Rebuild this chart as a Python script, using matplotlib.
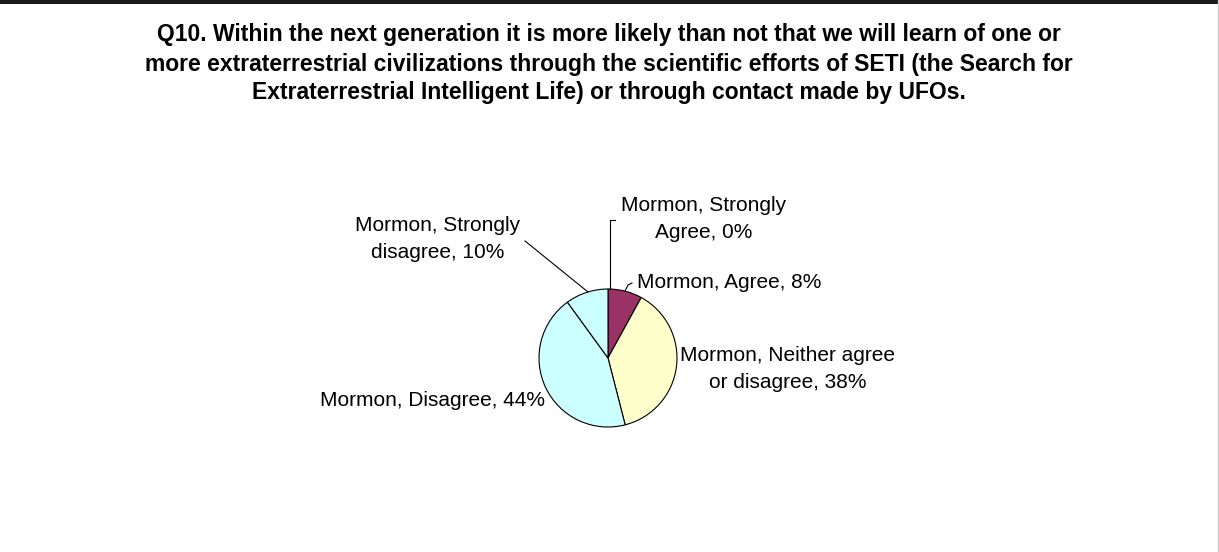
import matplotlib
matplotlib.use("Agg")
import matplotlib.pyplot as plt
from matplotlib.patches import Rectangle

plt.rcParams['font.family'] = ['Liberation Sans', 'DejaVu Sans']

title_lines = [
    "Q10. Within the next generation it is more likely than not that we will learn of one or",
    "more extraterrestrial civilizations through the scientific efforts of SETI (the Search for",
    "Extraterrestrial Intelligent Life) or through contact made by UFOs.",
]
categories = ["Strongly Agree", "Agree", "Neither agree or disagree", "Disagree", "Strongly disagree"]
group = "Mormon"
percents = [0, 8, 38, 44, 10]
colors = ["#9999FF", "#993366", "#FFFFCC", "#CCFFFF", "#CCFFFF"]

W, H = 1219, 552
fig = plt.figure(figsize=(W / 100, H / 100), dpi=100)
ax = fig.add_axes([0, 0, 1, 1])


def Y(ypix):
    return H - ypix


cx, cy, r = 608, 358, 69
ax.pie(percents, colors=colors, startangle=90, counterclock=False,
       center=(cx, Y(cy)), radius=r,
       wedgeprops=dict(edgecolor='black', linewidth=0.8))
ax.set_xlim(0, W)
ax.set_ylim(0, H)
ax.set_aspect('auto')
ax.axis('off')

# title
for i, line in enumerate(title_lines):
    ax.text(609, Y(35 + 29 * i), line, ha='center', va='center',
            fontsize=16.5, fontweight='bold', color='black')

fs = 15
lw = 0.8

# Strongly agree label
ax.text(704, Y(219), f"{group}, Strongly\n{categories[0].split()[1]}, {percents[0]}%",
        ha='center', va='center', fontsize=fs, linespacing=1.5)
ax.plot([610, 610, 615], [Y(cy - r), Y(220), Y(220)], color='black', lw=lw)

# Agree label
ax.text(637, Y(283), f"{group}, {categories[1]}, {percents[1]}%",
        ha='left', va='center', fontsize=fs)
ax.plot([625, 628, 632], [Y(291), Y(285), Y(283)], color='black', lw=lw)

# Neither label
ax.text(788, Y(369), f"{group}, Neither agree\nor disagree, {percents[2]}%",
        ha='center', va='center', fontsize=fs, linespacing=1.5)

# Disagree label
ax.text(432, Y(400), f"{group}, {categories[3]}, {percents[3]}%",
        ha='center', va='center', fontsize=fs)

# Strongly disagree label
ax.text(438, Y(239), f"{group}, Strongly\ndisagree, {percents[4]}%",
        ha='center', va='center', fontsize=fs, linespacing=1.5)
ax.plot([525, 588], [Y(241), Y(292)], color='black', lw=lw)

# frame remnants
ax.add_patch(Rectangle((0, Y(4)), W, 4, color='#1a1a1a', lw=0, clip_on=False))
ax.plot([W - 1, W - 1], [0, H], color='#cccccc', lw=1)

fig.savefig("out.png", dpi=100)
